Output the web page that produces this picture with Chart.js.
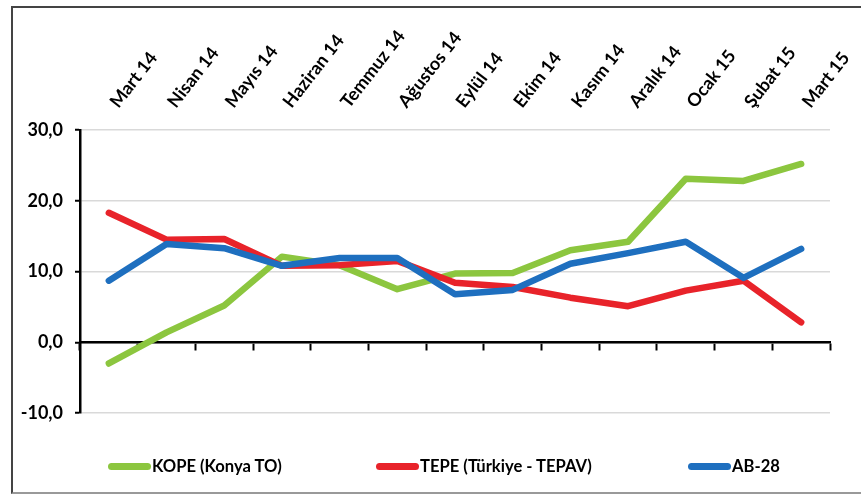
<!DOCTYPE html>
<html>
<head>
<meta charset="utf-8">
<script src="https://cdn.jsdelivr.net/npm/chart.js@4.4.0/dist/chart.umd.min.js"></script>
<style>
    body { margin: 0; background: #fff; }
    #wrap { position: relative; width: 861px; height: 495px; overflow: hidden; }
    #frame { position: absolute; left: 11px; top: 6px; width: 880px; height: 484px; border: 2px solid #444; border-bottom-color: #999; }
    #grafico { position: absolute; left: 0; top: 0; }
    .leg { position: absolute; top: 456px; height: 24px; line-height: 24px; font: bold 16.6px Lato, "Open Sans", sans-serif; color: #000; white-space: nowrap; }
    .leg span { display: inline-block; width: 43px; height: 7px; border-radius: 4px; vertical-align: middle; margin-right: 1px; position: relative; top: -1px; }
</style>
</head>
<body>
<div id="wrap">
    <div id="frame"></div>
    <canvas id="grafico" width="861" height="495"></canvas>
    <div class="leg" id="leg0" style="left:108px"><span></span></div>
    <div class="leg" id="leg1" style="left:376px"><span></span></div>
    <div class="leg" id="leg2" style="left:688px"><span></span></div>
</div>
<script>
const meses = ['Mart 14', 'Nisan 14', 'Mayıs 14', 'Haziran 14', 'Temmuz 14', 'Ağustos 14', 'Eylül 14',
    'Ekim 14', 'Kasım 14', 'Aralık 14', 'Ocak 15', 'Şubat 15', 'Mart 15'];
const kope = [-3.0, 1.4, 5.2, 12.1, 10.9, 7.5, 9.7, 9.8, 13.0, 14.2, 23.1, 22.8, 25.2];
const tepe = [18.3, 14.5, 14.6, 10.8, 10.9, 11.5, 8.4, 7.8, 6.3, 5.1, 7.3, 8.7, 2.8];
const ab28 = [8.7, 13.9, 13.3, 10.8, 11.9, 11.9, 6.8, 7.4, 11.1, 12.6, 14.2, 9.1, 13.2];
const nomes = ['KOPE (Konya TO)', 'TEPE (Türkiye - TEPAV)', 'AB-28'];
const cores = ['#8cc63f', '#e8232a', '#1e6fbf'];

const fonte = { family: 'Lato, "Open Sans", sans-serif', weight: 'bold', size: 18 };

// legenda em HTML (espaçamento largo como no original)
nomes.forEach((nome, i) => {
    const el = document.getElementById('leg' + i);
    el.querySelector('span').style.background = cores[i];
    el.appendChild(document.createTextNode(nome));
});

function serie(i, valores, ordem) {
    return {
        label: nomes[i],
        data: valores,
        borderColor: cores[i],
        backgroundColor: cores[i],
        borderWidth: 6.5,
        borderCapStyle: 'round',
        borderJoinStyle: 'round',
        pointRadius: 0,
        tension: 0,
        order: ordem
    };
}

new Chart(document.getElementById('grafico').getContext('2d'), {
    type: 'line',
    data: {
        labels: meses,
        datasets: [serie(0, kope, 3), serie(1, tepe, 2), serie(2, ab28, 1)]
    },
    options: {
        responsive: false,
        animation: false,
        layout: { padding: { left: 0, top: 0, right: 31, bottom: 82 } },
        plugins: { legend: { display: false }, tooltip: { enabled: false } },
        scales: {
            x: {
                position: 'top',
                offset: true,
                grid: { display: false },
                border: { display: false },
                ticks: { color: '#000', font: fonte, minRotation: 52, maxRotation: 52, padding: 10, labelOffset: 22 },
                afterFit: s => { s.height = 130; }
            },
            x2: {
                type: 'category',
                position: { y: 0 },
                offset: true,
                grid: { offset: true, drawOnChartArea: false, drawTicks: true, tickLength: 7, tickColor: '#000', tickWidth: 2 },
                border: { color: '#000', width: 2.5 },
                ticks: { display: false }
            },
            y: {
                min: -10,
                max: 30,
                ticks: {
                    stepSize: 10,
                    color: '#000',
                    font: fonte,
                    padding: 12,
                    callback: v => v.toFixed(1).replace('.', ',')
                },
                grid: { color: '#d9d9d9', lineWidth: 1.5, tickColor: '#000', tickLength: 5, tickWidth: 2 },
                border: { color: '#000', width: 2.5 },
                afterFit: s => { s.width = 80; }
            }
        }
    }
});
</script>
</body>
</html>
